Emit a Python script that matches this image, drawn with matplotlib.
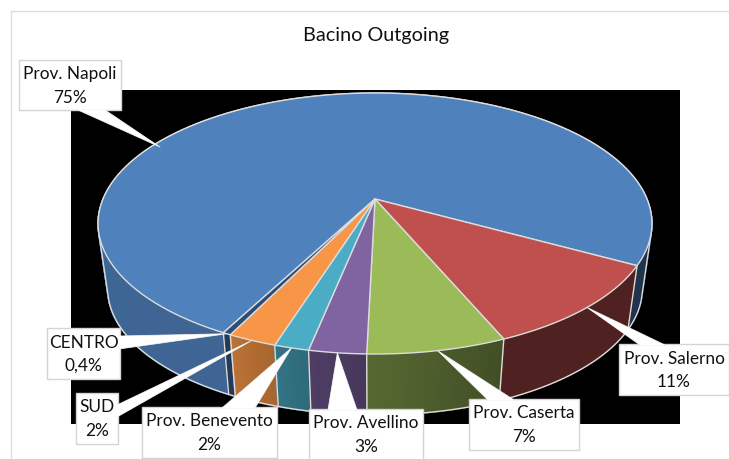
import numpy as np
import matplotlib
matplotlib.use("Agg")
import matplotlib.pyplot as plt
from matplotlib.patches import Polygon, Rectangle

plt.rcParams['font.family'] = ['Lato', 'DejaVu Sans']

# ---- data ----
categories = ["Prov. Napoli", "Prov. Salerno", "Prov. Caserta", "Prov. Avellino",
              "Prov. Benevento", "SUD", "CENTRO"]
values = [75.3, 10.6, 6.8, 2.8, 1.7, 2.4, 0.4]
pct_labels = ["75%", "11%", "7%", "3%", "2%", "2%", "0,4%"]
title = "Bacino Outgoing"

# ---- styles ----
colors = ["#4f81bd", "#c0504d", "#9bbb59", "#8064a2", "#4bacc6", "#f79646", "#2c4d75"]
edge = "#dcdcdc"
# label boxes (x0, x1, y0, y1) and pointer base (x or y pairs) in pixels
boxes = [(19, 121, 60, 110), (619, 729, 344, 395), (469, 579, 399, 450), (309, 423, 409, 464),
         (142, 277, 407, 458), (76, 118, 393, 444), (47, 120, 328, 379)]
bases = [((78, 110), (105, 110)), ((640, 345), (665, 345)), ((488, 400), (514, 400)),
         ((328, 410), (357, 410)), ((222, 408), (255, 408)), ((117, 405), (117, 417)),
         ((119, 336), (119, 349))]
napoli_tip = (160, 147)

W, H = 729, 459
fig = plt.figure(figsize=(W / 100, H / 100), dpi=100, facecolor="white")
ax = fig.add_axes([0, 0, 1, 1])
ax.set_xlim(0, W)
ax.set_ylim(H, 0)
ax.axis("off")

# ---- chart frame and plot area ----
ax.plot([11.5, 11.5, W], [H, 10.5, 10.5], color="#dddddd", lw=1, zorder=1)
plot_bg = Rectangle((71, 90), 609, 334, fc="black", ec="none", zorder=1)
ax.add_patch(plot_bg)

# ---- perspective projection of the pie ----
cx, cy, a, b, k = 375.0, 199.0, 272.0, 125.9, 0.1878
shrink, cy_bottom = 0.965, 265.4


def top(theta):
    t = np.radians(theta)
    w = 1 - k * np.cos(t)
    return cx + a * np.sin(t) / w, cy + b * np.cos(t) / w


def bottom(theta):
    x, y = top(theta)
    return cx + shrink * (x - cx), cy_bottom + shrink * (y - cy)


def shade(hex_color, theta):
    f = np.interp(theta, [-110, -28, -12, 0, 25, 110], [0.80, 0.78, 0.62, 0.55, 0.41, 0.41])
    return tuple(f * c for c in matplotlib.colors.to_rgb(hex_color))


def convex_hull(points):
    pts = sorted(set(map(tuple, points)))

    def half(seq):
        out = []
        for p in seq:
            while len(out) > 1 and ((out[-1][0] - out[-2][0]) * (p[1] - out[-2][1])
                                    - (out[-1][1] - out[-2][1]) * (p[0] - out[-2][0])) <= 0:
                out.pop()
            out.append(p)
        return out[:-1]

    return np.array(half(pts) + half(pts[::-1]))


# angles: slices run clockwise on screen, theta measured from the front
start = -27.7
fractions = np.array(values) / sum(values)
bounds = start - np.concatenate([[0], np.cumsum(fractions)]) * 360.0

# solid body of the drum: silhouette of the top and bottom rims
ring = np.linspace(-180, 180, 721)
hull = convex_hull(np.vstack([np.column_stack(top(ring)), np.column_stack(bottom(ring))]))
for x_from, width, th_side in ((0, cx, -100), (cx, W - cx, 100)):
    body = Polygon(hull, fc=shade(colors[0], th_side), ec="none", zorder=1.5)
    ax.add_patch(body)
    body.set_clip_path(Rectangle((x_from, 0), width, H, transform=ax.transData))

# side walls, back to front
walls = []
for i, col in enumerate(colors):
    hi, lo = bounds[i], bounds[i + 1]
    th = np.linspace(lo, hi, max(3, int((hi - lo) / 1.0) + 2))
    for t0, t1 in zip(th[:-1], th[1:]):
        n0 = (t0 + 180) % 360 - 180
        n1 = (t1 + 180) % 360 - 180
        if abs(n0) > 85 or abs(n1) > 85:
            continue
        walls.append((abs(n0), n0, n1, col))
for _, n0, n1, col in sorted(walls, key=lambda w: -w[0]):
    xt0, yt0 = top(n0)
    xt1, yt1 = top(n1)
    xb0, yb0 = bottom(n0)
    xb1, yb1 = bottom(n1)
    c = shade(col, (n0 + n1) / 2)
    ax.add_patch(Polygon([(xt0, yt0), (xt1, yt1), (xb1, yb1), (xb0, yb0)],
                         fc=c, ec=c, lw=1.2, zorder=2))

# silhouette outline and wall edges
ax.add_patch(Polygon(hull, fc="none", ec=edge, lw=1, zorder=3))
for b_th in bounds[1:]:
    n = (b_th + 180) % 360 - 180
    if abs(n) < 100:
        p, q = top(n), bottom(n)
        ax.plot([p[0], q[0]], [p[1], q[1]], color=edge, lw=1, zorder=3)

# top faces
for i, col in enumerate(colors):
    th = np.linspace(bounds[i + 1], bounds[i], max(3, int(bounds[i] - bounds[i + 1]) * 2))
    x, y = top(th)
    ax.add_patch(Polygon(np.column_stack([np.r_[cx, x], np.r_[cy, y]]),
                         fc=col, ec=edge, lw=1, joinstyle="round", zorder=4))

# ---- labels with callout pointers ----
mids = (bounds[:-1] + bounds[1:]) / 2
for i, name in enumerate(categories):
    x0, x1, y0, y1 = boxes[i]
    ax.add_patch(Rectangle((x0, y0), x1 - x0, y1 - y0, fc="white", ec="#d4d4d4", lw=1, zorder=6))
    tip = napoli_tip if i == 0 else top(mids[i])
    p0, p1 = bases[i]
    ax.add_patch(Polygon([p0, tip, p1], fc="white", ec="none", zorder=7))
    ax.plot([p0[0], tip[0], p1[0]], [p0[1], tip[1], p1[1]], color="#e4e4e4", lw=0.6, zorder=6.5)
    xc = (x0 + x1) / 2
    ax.text(xc, y0 + 14.5, name, ha="center", va="center", fontsize=12.4, color="#111111", zorder=8)
    ax.text(xc, y0 + 38, pct_labels[i], ha="center", va="center", fontsize=12.4, color="#111111", zorder=8)

ax.text(376, 36, title, ha="center", va="center", fontsize=14.3, color="#111111", zorder=8)

fig.savefig("out.png", dpi=100, facecolor="white")
